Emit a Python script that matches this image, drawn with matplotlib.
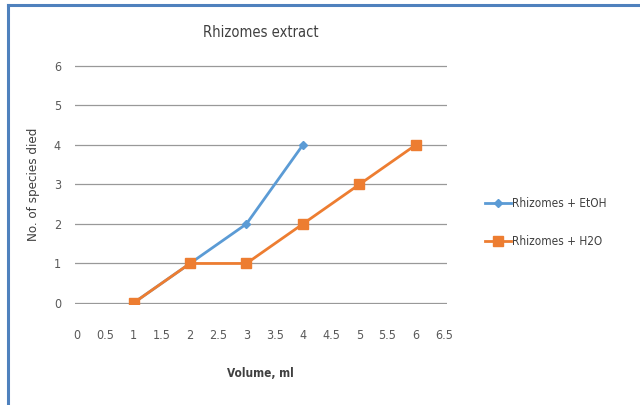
import matplotlib.pyplot as plt
from matplotlib.lines import Line2D

plt.rcParams['font.family'] = ['DejaVu Sans']
plt.rcParams['font.stretch'] = 'condensed'

volume_etoh = [1, 2, 3, 4]
died_etoh = [0, 1, 2, 4]

volume_h2o = [1, 2, 3, 4, 5, 6]
died_h2o = [0, 1, 1, 2, 3, 4]

x_ticks = [0, 0.5, 1, 1.5, 2, 2.5, 3, 3.5, 4, 4.5, 5, 5.5, 6, 6.5]
x_tick_labels = ['0', '0.5', '1', '1.5', '2', '2.5', '3', '3.5', '4', '4.5', '5', '5.5', '6', '6.5']
y_ticks = [0, 1, 2, 3, 4, 5, 6]

fig = plt.figure(figsize=(6.4, 4.05), dpi=100)
ax = fig.add_axes([0.117, 0.250, 0.581, 0.589])

ax.plot(volume_etoh, died_etoh, color='#5B9BD5', linewidth=2,
        marker='D', markersize=4, label='Rhizomes + EtOH', zorder=3)
ax.plot(volume_h2o, died_h2o, color='#ED7D31', linewidth=2,
        marker='s', markersize=6.5, label='Rhizomes + H2O', zorder=4)

ax.set_xlim(-0.04, 6.55)
ax.set_ylim(-0.02, 6.02)
ax.set_xticks(x_ticks)
ax.set_xticklabels(x_tick_labels)
ax.set_yticks(y_ticks)
ax.tick_params(length=0, labelsize=9, colors='#595959')
ax.tick_params(axis='x', pad=18)
ax.tick_params(axis='y', pad=10)
for s in ax.spines.values():
    s.set_visible(False)
ax.grid(axis='y', color='#999999', linewidth=0.9)
ax.set_axisbelow(True)

ax.set_title('Rhizomes extract', fontsize=10.5, color='#404040', pad=20)
ax.set_xlabel('Volume, ml', fontsize=8.5, fontweight='bold', color='#404040', labelpad=18)
ax.set_ylabel('No. of species died', fontsize=9.5, color='#404040', labelpad=10)

ax.legend(loc='center left', bbox_to_anchor=(1.075, 0.34), frameon=False,
          fontsize=8.5, labelspacing=2.1, handlelength=2.2, handletextpad=0.1,
          labelcolor='#404040')

# partial outer border (top and left edges only)
fig.add_artist(Line2D([0.012, 0.012], [0, 0.987], color='#4F81BD', linewidth=2.2,
                      transform=fig.transFigure))
fig.add_artist(Line2D([0.012, 1], [0.987, 0.987], color='#4F81BD', linewidth=2.2,
                      transform=fig.transFigure))

fig.savefig('out.png', dpi=100)
